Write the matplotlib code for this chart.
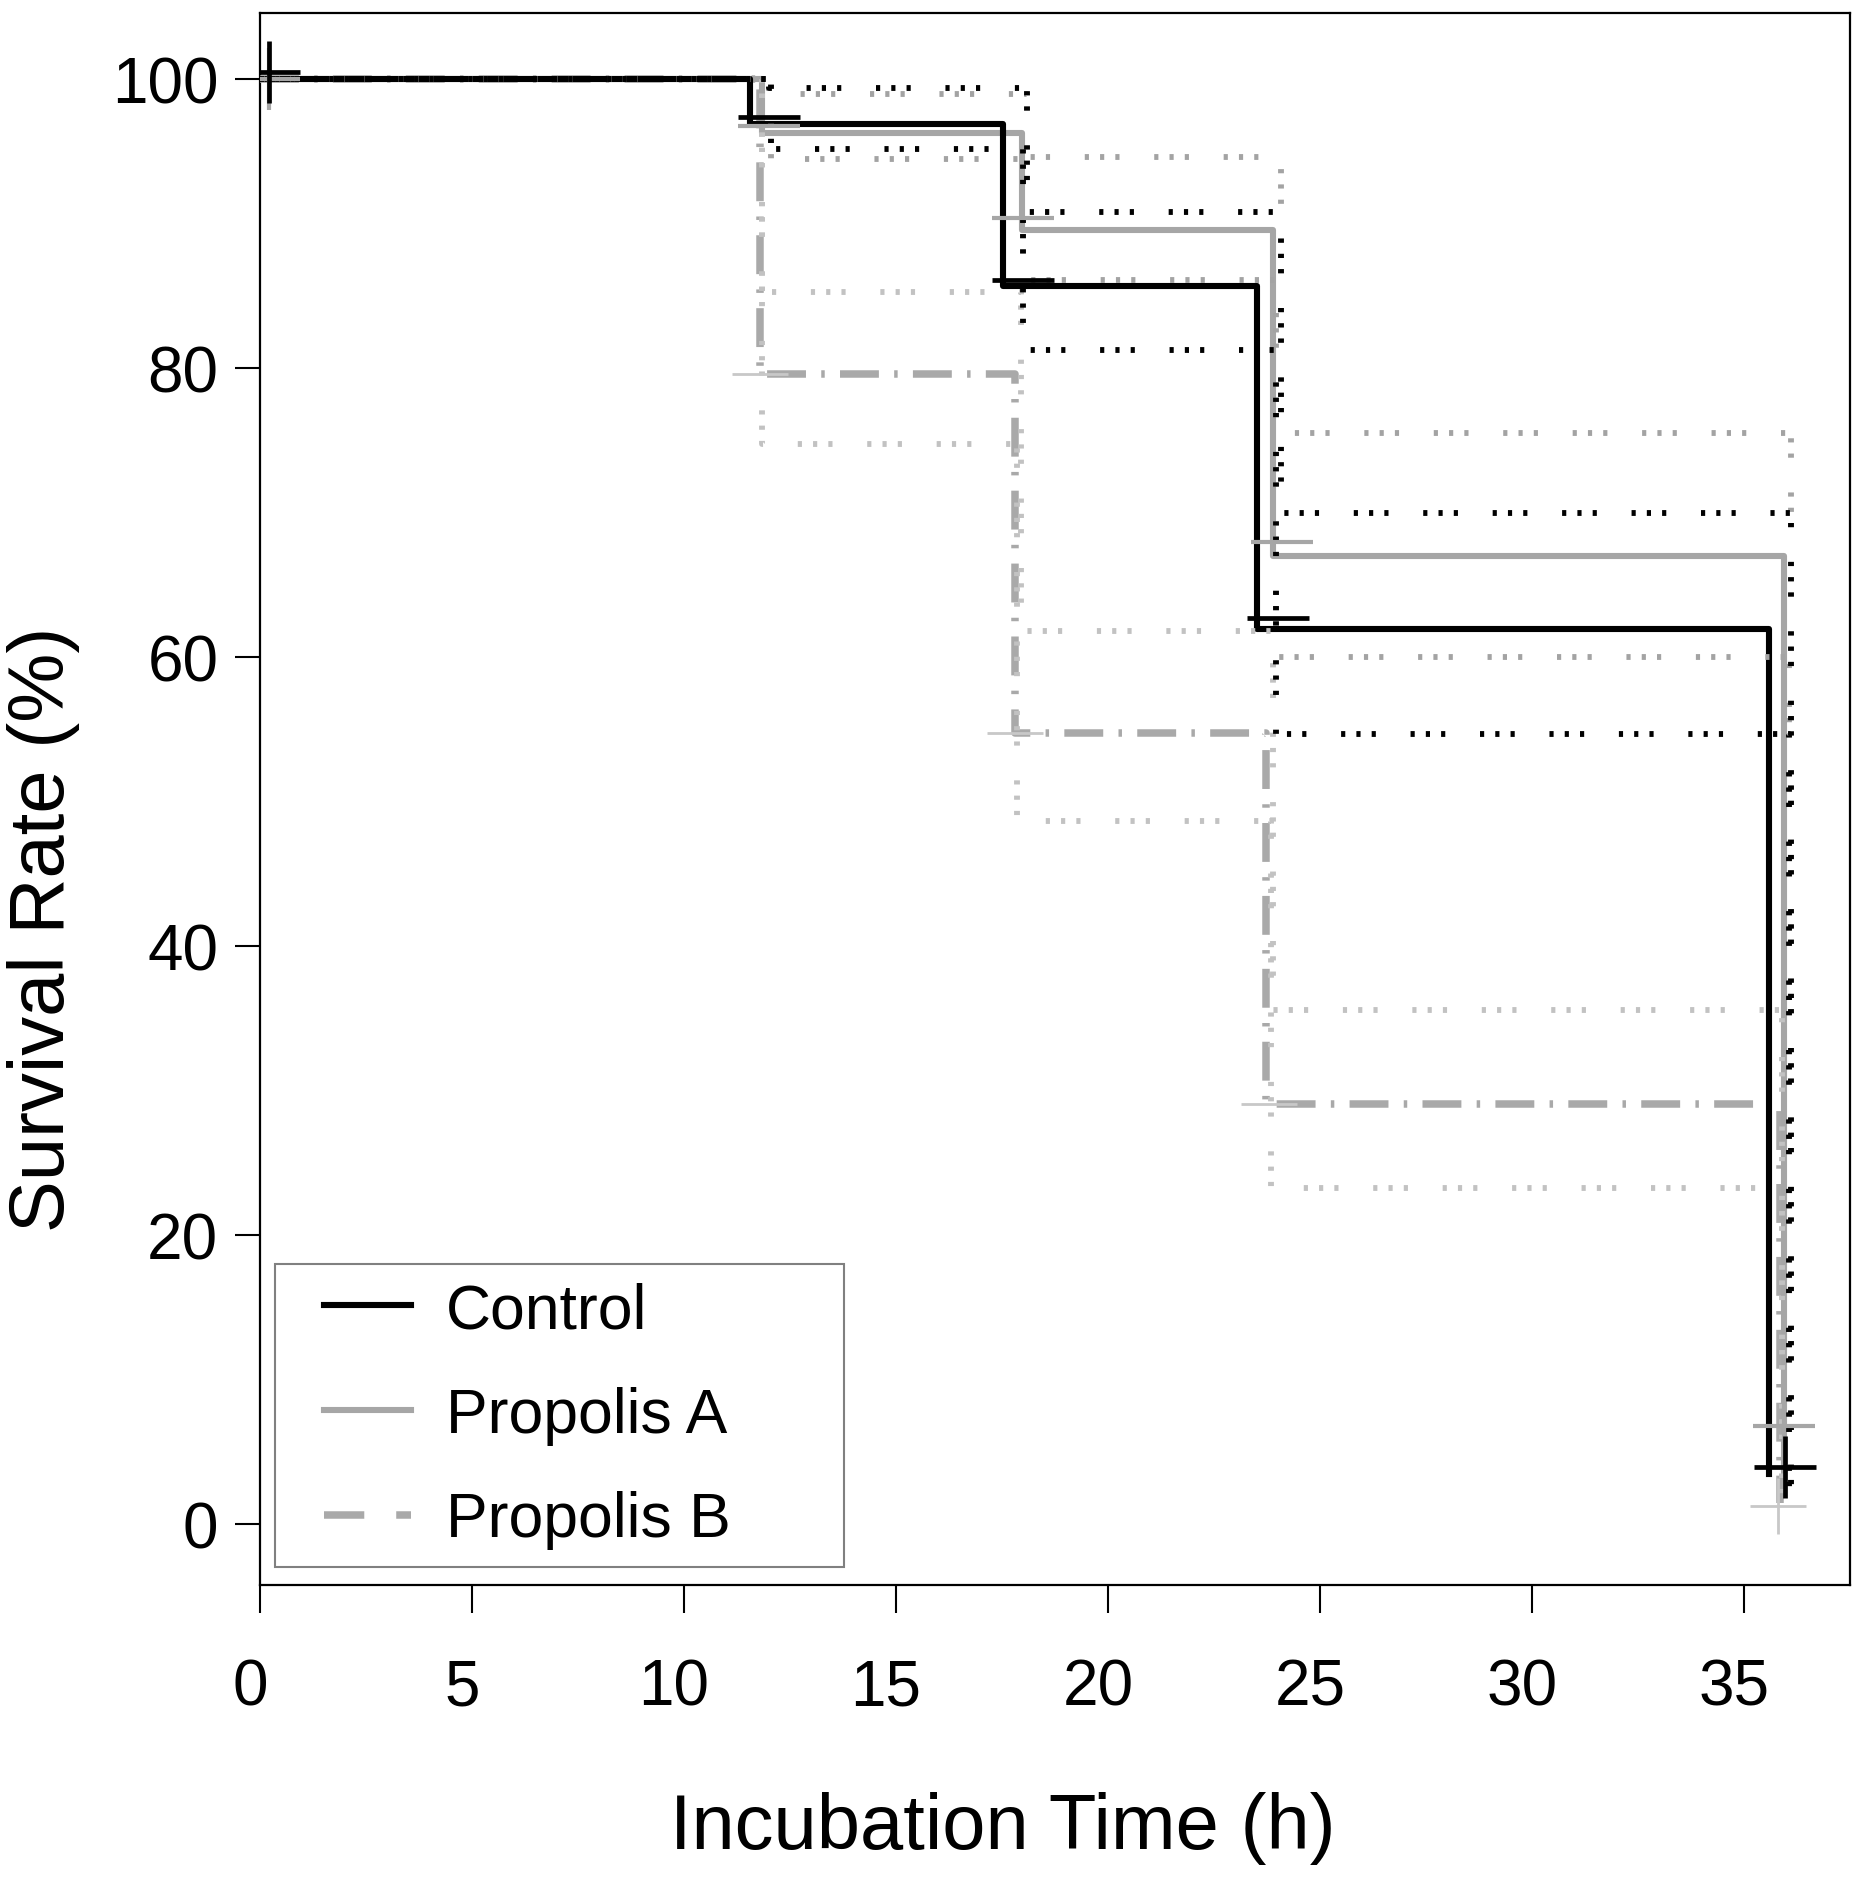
import matplotlib
matplotlib.use("Agg")
import matplotlib.pyplot as plt
import matplotlib.transforms as mtransforms
from matplotlib.legend_handler import HandlerLine2D
from matplotlib.lines import Line2D

plt.rcParams['font.family'] = ['Liberation Sans', 'DejaVu Sans']
plt.rcParams['lines.scale_dashes'] = False

# ---------------- data ----------------
groups = ["Control", "Propolis A", "Propolis B"]

ctrl_t = [0, 11.55, 17.52, 23.51, 35.58]
ctrl_s = [100, 96.9, 85.7, 62.0, 3.5]
propA_t = [0, 11.85, 17.97, 23.90, 35.94]
propA_s = [100, 96.3, 89.6, 67.0, 2.6]
propB_t = [0, 11.79, 17.80, 23.73, 35.85]
propB_s = [100, 79.6, 54.8, 29.1, 1.5]

# 95% confidence bands (step functions)
ctrl_up_t = [0, 12.0, 18.10, 24.08, 36.10]
ctrl_up = [100, 99.4, 90.8, 70.0, 2.2]
ctrl_lo_t = [0, 12.05, 18.00, 23.95, 36.05]
ctrl_lo = [100, 95.2, 81.3, 54.7, 2.2]
propA_up_t = [0, 12.0, 18.10, 24.08, 36.10]
propA_up = [100, 99.0, 94.6, 75.5, 2.0]
propA_lo_t = [0, 12.05, 18.00, 23.95, 36.05]
propA_lo = [100, 94.5, 86.1, 60.0, 2.0]
propB_up_t = [0, 11.85, 17.95, 23.90, 35.90]
propB_up = [100, 85.3, 61.8, 35.6, 1.5]
propB_lo_t = [0, 11.85, 17.85, 23.85, 35.90]
propB_lo = [100, 74.8, 48.7, 23.3, 1.5]

# censor / event marks
ctrl_cens_t = [0.2, 12.0, 18.0, 24.0, 35.96]
ctrl_cens_s = [100.5, 97.4, 86.1, 62.7, 4.0]
propA_cens_t = [0.2, 12.0, 18.0, 24.1, 35.95]
propA_cens_s = [100.0, 96.8, 90.4, 68.0, 6.8]
propB_cens_t = [0.2, 11.8, 17.8, 23.8, 35.8]
propB_cens_s = [100.0, 79.6, 54.8, 29.1, 1.3]

x_ticks = [0, 5, 10, 15, 20, 25, 30, 35]
y_ticks = [0, 20, 40, 60, 80, 100]

# ---------------- styles ----------------
c_ctrl = "#000000"
c_A = "#a6a6a6"
c_B = "#a9a9a9"
c_ci_A = "#a3a3a3"
c_ci_B = "#c2c2c2"
dot_pat = (0, (3, 8, 3, 8, 3, 25))
dash_B = (0, (28, 11, 2.5, 11))

fig = plt.figure(figsize=(18.72, 18.83), dpi=100)
ax = fig.add_axes([0.1389, 0.1577, 0.9883 - 0.1389, 0.99257 - 0.1577])

# curves
ax.plot(propB_t, propB_s, drawstyle='steps-post', color=c_B, lw=5.4,
        linestyle=dash_B, dash_capstyle='butt', zorder=3)
ax.plot(propA_t, propA_s, drawstyle='steps-post', color=c_A, lw=4.4, zorder=4)
ax.plot(ctrl_t, ctrl_s, drawstyle='steps-post', color=c_ctrl, lw=4.4, zorder=5)

# confidence bands
for tt, yy, col in [(propB_up_t, propB_up, c_ci_B), (propB_lo_t, propB_lo, c_ci_B),
                    (propA_up_t, propA_up, c_ci_A), (propA_lo_t, propA_lo, c_ci_A),
                    (ctrl_up_t, ctrl_up, c_ctrl), (ctrl_lo_t, ctrl_lo, c_ctrl)]:
    ax.plot(tt, yy, drawstyle='steps-post', color=col, lw=4.2,
            linestyle=dot_pat, dash_capstyle='butt', zorder=6)

# censor marks: full crosses at first/last, horizontal ticks at the steps
for tt, ss, col, ms, mew, z in [(propB_cens_t, propB_cens_s, "#c8c8c8", 40, 2.0, 7),
                                (propA_cens_t, propA_cens_s, c_A, 44, 3.0, 7),
                                (ctrl_cens_t, ctrl_cens_s, c_ctrl, 44, 3.4, 8)]:
    ax.plot([tt[0], tt[-1]], [ss[0], ss[-1]], linestyle='none', marker='+',
            ms=ms, mew=mew, color=col, zorder=z)
    ax.plot(tt[1:-1], ss[1:-1], linestyle='none', marker='_',
            ms=ms, mew=mew, color=col, zorder=z)

ax.set_xlim(0, 37.5)
ax.set_ylim(-4.2, 104.6)
ax.set_xticks(x_ticks)
ax.set_yticks(y_ticks)
ax.tick_params(axis='both', direction='out', labelsize=46, width=1.5, color='black')
ax.tick_params(axis='x', length=20, pad=32)
ax.tick_params(axis='y', length=18, pad=12)
shift = mtransforms.ScaledTranslation(-10 / 100, 0, fig.dpi_scale_trans)
for lab in ax.get_xticklabels():
    lab.set_transform(lab.get_transform() + shift)
for sp in ax.spines.values():
    sp.set_linewidth(1.6)
    sp.set_color('black')

ax.set_xlabel("Incubation Time (h)", fontsize=56)
ax.xaxis.set_label_coords(0.467, -0.167)
ax.xaxis.label.set_va('baseline')
ax.set_ylabel("Survival Rate (%)", fontsize=56, rotation=90, rotation_mode='anchor')
ax.yaxis.set_label_coords(-0.123, 0.418)
ax.yaxis.label.set_va('baseline')
ax.yaxis.label.set_ha('center')

# legend proxies (same styles as the curves)
hC = Line2D([], [], color=c_ctrl, lw=4.4, label=groups[0])
hA = Line2D([], [], color=c_A, lw=4.4, label=groups[1])
hB = Line2D([], [], color=c_B, lw=5.4, linestyle=(0, (29, 23, 13, 60)),
            dash_capstyle='butt', label=groups[2])
hm = {hC: HandlerLine2D(xpad=0.5), hA: HandlerLine2D(xpad=0.5), hB: HandlerLine2D(xpad=0.5)}
leg = ax.legend(handles=[hC, hA, hB], loc='lower left',
                bbox_to_anchor=(0.0094, 0.0115, 0.358, 0.192), mode='expand',
                borderaxespad=0, fontsize=45, handlelength=1.9, handletextpad=0.56,
                borderpad=0.28, labelspacing=0.73, fancybox=False, framealpha=1,
                edgecolor='#808080', handler_map=hm)
leg.get_frame().set_linewidth(1.5)

fig.savefig("out.png", dpi=100)
